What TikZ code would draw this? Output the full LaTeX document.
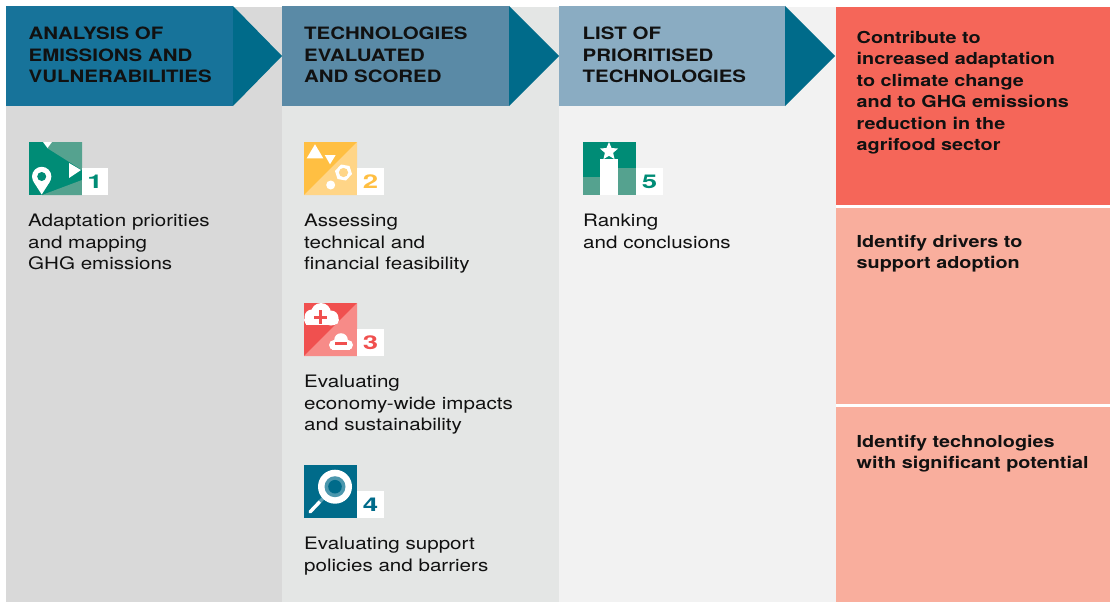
\documentclass[tikz,border=0pt]{standalone}
\usepackage{fontspec}
\setmainfont{TeX Gyre Heros}[FakeStretch=1.2]
\newfontfamily\numfont{TeX Gyre Heros}[FakeStretch=1.45]
\usetikzlibrary{shapes.geometric}
\definecolor{bgA}{HTML}{D9D9D9}
\definecolor{bgB}{HTML}{E4E6E5}
\definecolor{bgC}{HTML}{F2F2F2}
\definecolor{hdA}{HTML}{17739A}
\definecolor{hdB}{HTML}{5A8AA6}
\definecolor{hdC}{HTML}{8AACC2}
\definecolor{tealA}{HTML}{006B8A}
\definecolor{redA}{HTML}{F56659}
\definecolor{redB}{HTML}{F9AE9D}
\definecolor{grnA}{HTML}{008C76}
\definecolor{grnB}{HTML}{55A28F}
\definecolor{yelA}{HTML}{FFBF42}
\definecolor{yelB}{HTML}{FFD587}
\definecolor{rosA}{HTML}{F0504F}
\definecolor{rosB}{HTML}{F78B88}
\definecolor{txt}{HTML}{111111}
\tikzset{
  x=1pt,y=-1pt,
  hdtext/.style={anchor=north west,inner sep=0pt,align=left,text=txt,font=\fontsize{17.05}{21.5}\selectfont\bfseries},
  bodytext/.style={anchor=north west,inner sep=0pt,align=left,text=txt,font=\fontsize{17.15}{21.3}\selectfont},
  redtext/.style={anchor=north west,inner sep=0pt,align=left,text=txt,font=\fontsize{16.5}{21.5}\selectfont\bfseries},
  numbox/.style={fill=white,draw=none,minimum width=26.5pt,minimum height=27pt,inner sep=0pt,font=\numfont\fontsize{19}{19}\selectfont\bfseries},
}
\begin{document}
\begin{tikzpicture}
\useasboundingbox (0,0) rectangle (1110,602);
\fill[white] (0,0) rectangle (1110,602);
% column backgrounds
\fill[bgA] (6,7) rectangle (282,602);
\fill[bgB] (282,7) rectangle (559,602);
\fill[bgC] (559,7) rectangle (836,602);
\fill[redA] (836,7) rectangle (1110,205);
\fill[redB] (836,208) rectangle (1110,404);
\fill[redB] (836,407) rectangle (1110,602);
% headers
\fill[hdA] (6,6) rectangle (233,106);
\fill[tealA] (233,6) -- (282,56) -- (233,106) -- cycle;
\fill[hdB] (282,6) rectangle (509,106);
\fill[tealA] (509,6) -- (559,56) -- (509,106) -- cycle;
\fill[hdC] (559,6) rectangle (785,106);
\fill[tealA] (785,6) -- (835,56) -- (785,106) -- cycle;
\node[hdtext] (h1) at (28.5,27) {ANALYSIS OF\\EMISSIONS AND\\VULNERABILITIES};
\node[hdtext] (h2) at (304,27) {TECHNOLOGIES\\EVALUATED\\AND SCORED};
\node[hdtext] (h3) at (582.5,27) {LIST OF\\PRIORITISED\\TECHNOLOGIES};
% icon 1
\fill[grnA] (29,142) rectangle (82,195);
\fill[grnB] (47,142) -- (82,142) -- (82,170) -- (47,148) -- cycle;
\fill[grnB] (82,180) -- (82,195) -- (42,195) -- cycle;
\fill[white] (43,142) -- (52,142) -- (47.5,148) -- cycle;
\fill[white] (69,163) -- (69,178) -- (81,170) -- cycle;
\fill[white] (33.4,181.5) -- (50,181.5) -- (41.7,194.5) -- cycle;
\fill[white] (41.7,176.5) circle[radius=9.7];
\fill[grnA] (41.7,176.5) circle[radius=4.5];
\node[numbox,text=grnA] (n1) at (95,181.5) {1};
\node[bodytext] (t1) at (28,214) {Adaptation priorities\\and mapping\\GHG emissions};
% icon 2
\fill[yelA] (304,142) rectangle (357,195);
\fill[yelB] (357,142) -- (357,195) -- (304,195) -- cycle;
\fill[white] (306.7,158.3) -- (323.3,158.3) -- (315,144.3) -- cycle;
\fill[white] (324.7,155) -- (335.7,155) -- (330,164.3) -- cycle;
\fill[white] (341,164.5) -- (349.5,166) -- (352,174) -- (346,180.5) -- (337.5,179) -- (335,171) -- cycle;
\fill[yelB] (343.5,172.5) circle[radius=4.6];
\fill[white] (330.7,185) circle[radius=4.5];
\node[numbox,text=yelA] (n2) at (370.5,181.5) {2};
\node[bodytext] (t2) at (304,214) {Assessing\\technical and\\financial feasibility};
% icon 3
\fill[rosA] (304,303) rectangle (357,356);
\fill[rosB] (357,303) -- (357,356) -- (304,356) -- cycle;
\fill[white] (312,317) circle[radius=7.5] (321,313) circle[radius=10] (331,318) circle[radius=7.5] (309,320) circle[radius=5] (334,320) circle[radius=5];
\fill[white] (306,316) rectangle (335,325);
\fill[rosA] (314,316) rectangle (326.5,318.6);
\fill[rosA] (319,310) rectangle (321.6,324);
\fill[white] (334,345) circle[radius=5] (341,340) circle[radius=6.8] (348,345) circle[radius=5];
\fill[white] (332,344) rectangle (350,350);
\fill[rosA] (335,342.3) rectangle (347,344.8);
\node[numbox,text=rosA] (n3) at (370.5,342.5) {3};
\node[bodytext] (t3) at (304,375) {Evaluating\\economy-wide impacts\\and sustainability};
% icon 4
\fill[tealA] (304,465) rectangle (357,518);
\draw[white,line width=3.4pt,line cap=round] (310,512) -- (320,501.5);
\draw[white!35!tealA,line width=3.4pt] (320,501.5) -- (325,496.5);
\fill[white] (335,486.7) circle[radius=17];
\fill[white!30!tealA] (335,486.7) circle[radius=10.5];
\fill[tealA] (335,486.7) circle[radius=6.8];
\node[numbox,text=tealA] (n4) at (370.5,504.5) {4};
\node[bodytext] (t4) at (304,537) {Evaluating support\\policies and barriers};
% icon 5
\fill[grnA] (583,142) rectangle (636,195);
\fill[grnB] (583,176.7) rectangle (600,195);
\fill[white] (600,159) rectangle (618,195);
\fill[grnB] (618,167.7) rectangle (636,195);
\node[star,star points=5,star point ratio=2.2,fill=white,minimum size=19pt,inner sep=0pt] (s5) at (609,151.5) {};
\node[numbox,text=grnA] (n5) at (649.5,181.5) {5};
\node[bodytext] (t5) at (583,214) {Ranking\\and conclusions};
% outcomes
\node[redtext] (r1) at (856.5,31) {Contribute to\\increased adaptation\\to climate change\\and to GHG emissions\\reduction in the\\agrifood sector};
\node[redtext] (r2) at (856.5,235) {Identify drivers to\\support adoption};
\node[redtext] (r3) at (856.5,435) {Identify technologies\\with significant potential};
\end{tikzpicture}
\end{document}
